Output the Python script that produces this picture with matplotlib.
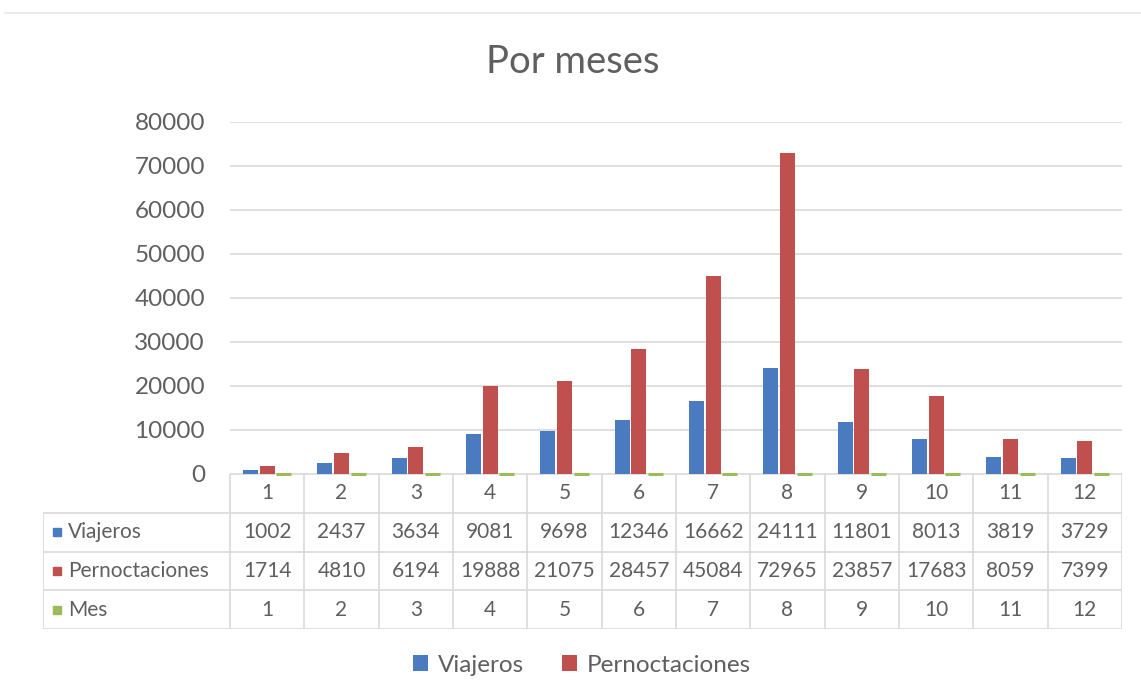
import numpy as np
import matplotlib.pyplot as plt
from matplotlib.patches import Patch
from matplotlib.lines import Line2D

plt.rcParams['font.family'] = ['Lato', 'DejaVu Sans']

meses          = [1, 2, 3, 4, 5, 6, 7, 8, 9, 10, 11, 12]
viajeros       = np.array([1002, 2437, 3634, 9081, 9698, 12346, 16662, 24111, 11801, 8013, 3819, 3729])
pernoctaciones = np.array([1714, 4810, 6194, 19888, 21075, 28457, 45084, 72965, 23857, 17683, 8059, 7399])
mes            = np.array([1, 2, 3, 4, 5, 6, 7, 8, 9, 10, 11, 12])
series_names   = ['Viajeros', 'Pernoctaciones', 'Mes']
colors         = ['#4A7BC0', '#C0504D', '#9BBB59']
text_col       = '#5F5F5F'
grid_col       = '#D9D9D9'

W, H = 1141, 681
fig = plt.figure(figsize=(W/100, H/100), dpi=100)
fig.patch.set_facecolor('white')

# faint line at the very top of the screenshot
fig.add_artist(Line2D([5/W, 1], [1 - 13/H, 1 - 13/H], color='#E8E8E8', lw=1.2))

fig.text(573/W, 1 - 62/H, 'Por meses', ha='center', va='center',
         fontsize=27.5, color=text_col)

# plot area
x0, x1 = 230, 1122
y_top, y_zero = 122, 474
ax = fig.add_axes([x0/W, 1 - y_zero/H, (x1 - x0)/W, (y_zero - y_top)/H])
x = np.arange(len(meses))
width = 0.2
off = 0.225
ax.bar(x - off, viajeros, width, color=colors[0])
ax.bar(x, pernoctaciones, width, color=colors[1])
# Mes values are tiny on this scale -> drawn with a thick edge so they show as a line
ax.bar(x + off, mes, width, color=colors[2], edgecolor=colors[2],
       linewidth=2.2, clip_on=False)
ax.set_xlim(-0.5, 11.5)
ax.set_ylim(0, 80000)
ax.set_yticks(np.arange(0, 80001, 10000))
ax.set_yticklabels([str(v) for v in range(0, 80001, 10000)], fontsize=17.5, color=text_col)
ax.tick_params(axis='y', length=0, pad=18)
ax.set_xticks([])
ax.yaxis.grid(True, color=grid_col, linewidth=1.2)
ax.set_axisbelow(True)
for s in ax.spines.values():
    s.set_visible(False)
ax.patch.set_alpha(0)
ax.set_zorder(3)

# data table under the plot
t_left, t_bottom = 43, 629
col_w = (x1 - x0) / 12
lab_w = (x0 - t_left) / col_w
tax = fig.add_axes([t_left/W, 1 - t_bottom/H, (x1 - t_left)/W, (t_bottom - y_zero)/H])
tax.set_xlim(-0.5 - lab_w, 11.5)
tax.set_ylim(4, 0)
tax.axis('off')

lc = dict(color=grid_col, lw=1.2)
tax.plot([-0.5, 11.5], [0, 0], **lc)
for r in range(1, 5):
    tax.plot([-0.5 - lab_w, 11.5], [r, r], **lc)
for k in range(13):
    tax.plot([-0.5 + k, -0.5 + k], [0, 4], **lc)
tax.plot([-0.5 - lab_w, -0.5 - lab_w], [1, 4], **lc)

for i, m in enumerate(meses):
    tax.text(i, 0.5, str(m), ha='center', va='center', fontsize=15, color=text_col)

rows = [viajeros, pernoctaciones, mes]
for r, (name, vals, c) in enumerate(zip(series_names, rows, colors)):
    yy = r + 1.5
    tax.plot(-0.5 - lab_w + 0.19, yy, marker='s', ms=6, color=c, linestyle='none')
    tax.text(-0.5 - lab_w + 0.34, yy, name, ha='left', va='center', fontsize=15, color=text_col)
    for i, v in enumerate(vals):
        tax.text(i, yy, str(v), ha='center', va='center', fontsize=15, color=text_col)

handles = [Patch(facecolor=colors[0], label='Viajeros'),
           Patch(facecolor=colors[1], label='Pernoctaciones')]
fig.legend(handles=handles, loc='center', bbox_to_anchor=(582/W, 1 - 665/H), ncol=2,
           frameon=False, fontsize=17.5, handlelength=0.6, handleheight=0.6,
           handletextpad=0.4, columnspacing=1.6, labelcolor=text_col)

plt.savefig('out.png', dpi=100, facecolor='white')
